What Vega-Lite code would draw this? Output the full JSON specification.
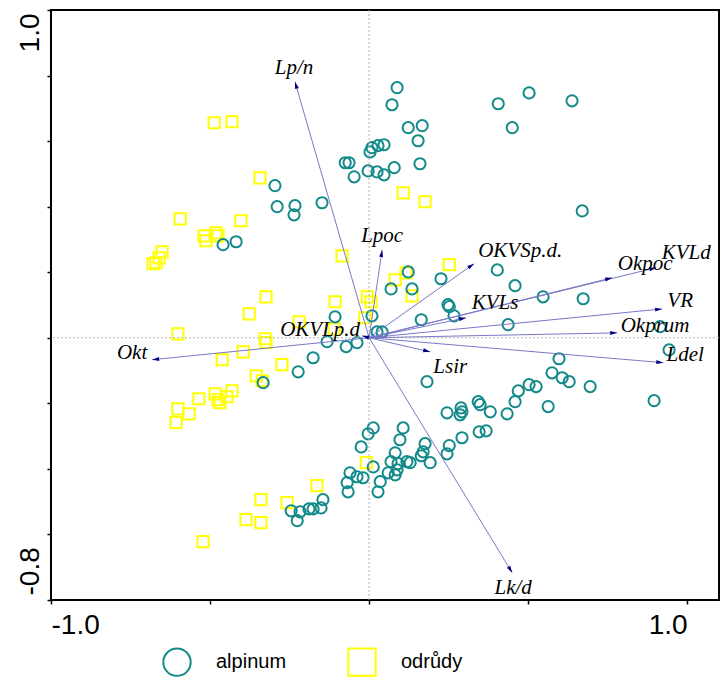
{
  "$schema": "https://vega.github.io/schema/vega-lite/v6.json",
  "width": 668,
  "height": 590,
  "autosize": "none",
  "padding": {"left": 51, "top": 10, "right": 1, "bottom": 80},
  "background": "white",
  "config": {
    "view": {"stroke": "black", "strokeWidth": 2},
    "legend": {
      "orient": "none",
      "legendX": 111,
      "legendY": 637,
      "direction": "horizontal",
      "symbolSize": 750,
      "symbolStrokeWidth": 2,
      "labelFontSize": 20,
      "labelFont": "Liberation Sans",
      "labelColor": "black",
      "labelOffset": 24,
      "columnPadding": 57,
      "padding": 0
    }
  },
  "datasets": {
    "pts": [
      {"g": "odrůdy", "x": -0.487, "y": 0.656}, {"g": "odrůdy", "x": -0.431, "y": 0.659},
      {"g": "odrůdy", "x": -0.343, "y": 0.488}, {"g": "odrůdy", "x": -0.594, "y": 0.363},
      {"g": "odrůdy", "x": -0.403, "y": 0.357}, {"g": "odrůdy", "x": -0.519, "y": 0.311},
      {"g": "odrůdy", "x": -0.513, "y": 0.296}, {"g": "odrůdy", "x": -0.481, "y": 0.320},
      {"g": "odrůdy", "x": -0.475, "y": 0.311}, {"g": "odrůdy", "x": -0.651, "y": 0.262},
      {"g": "odrůdy", "x": -0.660, "y": 0.244}, {"g": "odrůdy", "x": -0.679, "y": 0.226},
      {"g": "odrůdy", "x": -0.670, "y": 0.229}, {"g": "odrůdy", "x": 0.107, "y": 0.442},
      {"g": "odrůdy", "x": 0.176, "y": 0.415}, {"g": "odrůdy", "x": -0.085, "y": 0.250},
      {"g": "odrůdy", "x": 0.252, "y": 0.223}, {"g": "odrůdy", "x": 0.082, "y": 0.177},
      {"g": "odrůdy", "x": 0.116, "y": 0.198}, {"g": "odrůdy", "x": 0.135, "y": 0.128},
      {"g": "odrůdy", "x": -0.107, "y": 0.110}, {"g": "odrůdy", "x": -0.006, "y": 0.125},
      {"g": "odrůdy", "x": 0.006, "y": 0.110}, {"g": "odrůdy", "x": -0.324, "y": 0.125},
      {"g": "odrůdy", "x": -0.377, "y": 0.073}, {"g": "odrůdy", "x": -0.601, "y": 0.012},
      {"g": "odrůdy", "x": -0.327, "y": -0.003}, {"g": "odrůdy", "x": -0.324, "y": -0.015},
      {"g": "odrůdy", "x": -0.396, "y": -0.043}, {"g": "odrůdy", "x": -0.462, "y": -0.067},
      {"g": "odrůdy", "x": -0.274, "y": -0.082}, {"g": "odrůdy", "x": -0.355, "y": -0.116},
      {"g": "odrůdy", "x": -0.336, "y": -0.131}, {"g": "odrůdy", "x": -0.535, "y": -0.186},
      {"g": "odrůdy", "x": -0.484, "y": -0.171}, {"g": "odrůdy", "x": -0.475, "y": -0.189},
      {"g": "odrůdy", "x": -0.469, "y": -0.198}, {"g": "odrůdy", "x": -0.447, "y": -0.180},
      {"g": "odrůdy", "x": -0.431, "y": -0.162}, {"g": "odrůdy", "x": -0.601, "y": -0.217},
      {"g": "odrůdy", "x": -0.566, "y": -0.232}, {"g": "odrůdy", "x": -0.607, "y": -0.259},
      {"g": "odrůdy", "x": -0.340, "y": -0.494}, {"g": "odrůdy", "x": -0.387, "y": -0.555},
      {"g": "odrůdy", "x": -0.340, "y": -0.564}, {"g": "odrůdy", "x": -0.522, "y": -0.622},
      {"g": "odrůdy", "x": -0.220, "y": 0.049}, {"g": "odrůdy", "x": -0.013, "y": 0.061},
      {"g": "odrůdy", "x": -0.110, "y": 0.027}, {"g": "odrůdy", "x": -0.009, "y": -0.381},
      {"g": "odrůdy", "x": -0.164, "y": -0.451}, {"g": "odrůdy", "x": -0.258, "y": -0.503},
      {"g": "alpinum", "x": 0.088, "y": 0.763}, {"g": "alpinum", "x": 0.072, "y": 0.711},
      {"g": "alpinum", "x": 0.123, "y": 0.641}, {"g": "alpinum", "x": 0.167, "y": 0.647},
      {"g": "alpinum", "x": 0.154, "y": 0.601}, {"g": "alpinum", "x": 0.009, "y": 0.580},
      {"g": "alpinum", "x": 0.003, "y": 0.567}, {"g": "alpinum", "x": 0.028, "y": 0.586},
      {"g": "alpinum", "x": 0.047, "y": 0.589}, {"g": "alpinum", "x": -0.075, "y": 0.534},
      {"g": "alpinum", "x": -0.063, "y": 0.534}, {"g": "alpinum", "x": -0.047, "y": 0.491},
      {"g": "alpinum", "x": -0.003, "y": 0.509}, {"g": "alpinum", "x": 0.025, "y": 0.506},
      {"g": "alpinum", "x": 0.047, "y": 0.497}, {"g": "alpinum", "x": 0.079, "y": 0.519},
      {"g": "alpinum", "x": 0.160, "y": 0.531}, {"g": "alpinum", "x": 0.406, "y": 0.714},
      {"g": "alpinum", "x": 0.503, "y": 0.747}, {"g": "alpinum", "x": 0.638, "y": 0.723},
      {"g": "alpinum", "x": 0.450, "y": 0.641}, {"g": "alpinum", "x": 0.670, "y": 0.387},
      {"g": "alpinum", "x": -0.296, "y": 0.464}, {"g": "alpinum", "x": -0.289, "y": 0.400},
      {"g": "alpinum", "x": -0.233, "y": 0.403}, {"g": "alpinum", "x": -0.236, "y": 0.375},
      {"g": "alpinum", "x": -0.148, "y": 0.412}, {"g": "alpinum", "x": -0.459, "y": 0.284},
      {"g": "alpinum", "x": -0.418, "y": 0.293},
      {"g": "alpinum", "x": 0.403, "y": 0.207}, {"g": "alpinum", "x": 0.459, "y": 0.159},
      {"g": "alpinum", "x": 0.547, "y": 0.125}, {"g": "alpinum", "x": 0.673, "y": 0.119},
      {"g": "alpinum", "x": 0.123, "y": 0.201}, {"g": "alpinum", "x": 0.135, "y": 0.149},
      {"g": "alpinum", "x": 0.069, "y": 0.149}, {"g": "alpinum", "x": 0.226, "y": 0.180},
      {"g": "alpinum", "x": 0.248, "y": 0.101}, {"g": "alpinum", "x": -0.107, "y": 0.064},
      {"g": "alpinum", "x": 0.009, "y": 0.067}, {"g": "alpinum", "x": 0.252, "y": 0.095},
      {"g": "alpinum", "x": 0.267, "y": 0.067}, {"g": "alpinum", "x": 0.164, "y": 0.055},
      {"g": "alpinum", "x": -0.132, "y": -0.012}, {"g": "alpinum", "x": -0.072, "y": -0.027},
      {"g": "alpinum", "x": -0.038, "y": -0.015}, {"g": "alpinum", "x": 0.025, "y": 0.018},
      {"g": "alpinum", "x": 0.041, "y": 0.018}, {"g": "alpinum", "x": -0.176, "y": -0.061},
      {"g": "alpinum", "x": -0.223, "y": -0.104}, {"g": "alpinum", "x": -0.333, "y": -0.137},
      {"g": "alpinum", "x": 0.182, "y": -0.134}, {"g": "alpinum", "x": 0.437, "y": 0.040},
      {"g": "alpinum", "x": 0.915, "y": 0.034}, {"g": "alpinum", "x": 0.943, "y": -0.037},
      {"g": "alpinum", "x": 0.896, "y": -0.192},
      {"g": "alpinum", "x": 0.597, "y": -0.064}, {"g": "alpinum", "x": 0.575, "y": -0.107},
      {"g": "alpinum", "x": 0.607, "y": -0.122}, {"g": "alpinum", "x": 0.629, "y": -0.134},
      {"g": "alpinum", "x": 0.695, "y": -0.149}, {"g": "alpinum", "x": 0.503, "y": -0.143},
      {"g": "alpinum", "x": 0.525, "y": -0.149}, {"g": "alpinum", "x": 0.469, "y": -0.162},
      {"g": "alpinum", "x": 0.459, "y": -0.195}, {"g": "alpinum", "x": 0.563, "y": -0.210},
      {"g": "alpinum", "x": 0.434, "y": -0.232}, {"g": "alpinum", "x": 0.381, "y": -0.226},
      {"g": "alpinum", "x": 0.245, "y": -0.229}, {"g": "alpinum", "x": 0.289, "y": -0.214},
      {"g": "alpinum", "x": 0.292, "y": -0.226}, {"g": "alpinum", "x": 0.286, "y": -0.235},
      {"g": "alpinum", "x": 0.343, "y": -0.195}, {"g": "alpinum", "x": 0.349, "y": -0.204},
      {"g": "alpinum", "x": 0.292, "y": -0.305}, {"g": "alpinum", "x": 0.252, "y": -0.329},
      {"g": "alpinum", "x": 0.245, "y": -0.354}, {"g": "alpinum", "x": 0.346, "y": -0.287},
      {"g": "alpinum", "x": 0.368, "y": -0.284},
      {"g": "alpinum", "x": 0.013, "y": -0.275}, {"g": "alpinum", "x": -0.003, "y": -0.293},
      {"g": "alpinum", "x": -0.025, "y": -0.333}, {"g": "alpinum", "x": 0.107, "y": -0.275},
      {"g": "alpinum", "x": 0.097, "y": -0.311}, {"g": "alpinum", "x": 0.082, "y": -0.351},
      {"g": "alpinum", "x": 0.176, "y": -0.323}, {"g": "alpinum", "x": 0.170, "y": -0.348},
      {"g": "alpinum", "x": 0.164, "y": -0.360}, {"g": "alpinum", "x": 0.069, "y": -0.378},
      {"g": "alpinum", "x": 0.091, "y": -0.384}, {"g": "alpinum", "x": 0.119, "y": -0.378},
      {"g": "alpinum", "x": 0.129, "y": -0.381}, {"g": "alpinum", "x": 0.192, "y": -0.381},
      {"g": "alpinum", "x": 0.088, "y": -0.403}, {"g": "alpinum", "x": 0.060, "y": -0.412},
      {"g": "alpinum", "x": 0.082, "y": -0.418}, {"g": "alpinum", "x": 0.013, "y": -0.394},
      {"g": "alpinum", "x": -0.060, "y": -0.412}, {"g": "alpinum", "x": -0.038, "y": -0.424},
      {"g": "alpinum", "x": -0.019, "y": -0.427}, {"g": "alpinum", "x": -0.069, "y": -0.442},
      {"g": "alpinum", "x": 0.035, "y": -0.439}, {"g": "alpinum", "x": -0.066, "y": -0.470},
      {"g": "alpinum", "x": 0.028, "y": -0.470}, {"g": "alpinum", "x": -0.145, "y": -0.494},
      {"g": "alpinum", "x": -0.151, "y": -0.519}, {"g": "alpinum", "x": -0.176, "y": -0.522},
      {"g": "alpinum", "x": -0.189, "y": -0.522}, {"g": "alpinum", "x": -0.217, "y": -0.531},
      {"g": "alpinum", "x": -0.245, "y": -0.528}, {"g": "alpinum", "x": -0.226, "y": -0.558}
    ],
    "arrows": [
      {"v": "Lp/n", "x": -0.233, "y": 0.781, "lx": -0.236, "ly": 0.824},
      {"v": "Lpoc", "x": 0.041, "y": 0.268, "lx": 0.041, "ly": 0.311},
      {"v": "OKVSp.d.", "x": 0.330, "y": 0.226, "lx": 0.475, "ly": 0.265},
      {"v": "Okpoc", "x": 0.764, "y": 0.183, "lx": 0.868, "ly": 0.226},
      {"v": "KVLd", "x": 0.903, "y": 0.214, "lx": 0.997, "ly": 0.259},
      {"v": "KVLs", "x": 0.305, "y": 0.061, "lx": 0.396, "ly": 0.107},
      {"v": "VR", "x": 0.921, "y": 0.088, "lx": 0.978, "ly": 0.113},
      {"v": "Okprum", "x": 0.780, "y": 0.015, "lx": 0.899, "ly": 0.037},
      {"v": "Ldel", "x": 0.925, "y": -0.076, "lx": 0.994, "ly": -0.052},
      {"v": "Lsir", "x": 0.192, "y": -0.043, "lx": 0.255, "ly": -0.088},
      {"v": "Lk/d", "x": 0.450, "y": -0.717, "lx": 0.453, "ly": -0.763},
      {"v": "OKVLp.d", "x": -0.022, "y": 0.006, "lx": -0.154, "ly": 0.024},
      {"v": "Okt", "x": -0.682, "y": -0.067, "lx": -0.745, "ly": -0.046}
    ]
  },
  "layer": [
    {
      "data": {"name": "pts"},
      "mark": {"type": "point", "filled": false, "size": 125, "strokeWidth": 2, "opacity": 1},
      "encoding": {
        "x": {
          "field": "x", "type": "quantitative", "title": null,
          "scale": {"domain": [-1, 1.1], "nice": false, "zero": false},
          "axis": {
            "values": [-1, -0.5, 0, 0.5, 1],
            "labelExpr": "datum.value == -1 ? '-1.0' : (datum.value == 1 ? '1.0' : '')",
            "labelAlign": {"condition": {"test": "datum.value < 0", "value": "left"}, "value": "right"},
            "labelFont": "Liberation Sans", "labelFontSize": 28, "labelColor": "black",
            "labelPadding": 7, "labelFlush": false, "labelOverlap": false, "labelBaseline": "top",
            "tickColor": "black", "tickSize": 4, "tickWidth": 1.5,
            "domain": false, "grid": false, "title": null
          }
        },
        "y": {
          "field": "y", "type": "quantitative", "title": null,
          "scale": {"domain": [-0.8, 1.0], "nice": false, "zero": false},
          "axis": {
            "values": [-0.8, -0.6, -0.4, -0.2, 0, 0.2, 0.4, 0.6, 0.8, 1.0],
            "labelExpr": "datum.value == 1 ? '1.0' : (datum.value == -0.8 ? '-0.8' : '')",
            "labelAngle": -90,
            "labelAlign": {"condition": {"test": "datum.value > 0", "value": "right"}, "value": "left"},
            "labelOffset": {"condition": {"test": "datum.value > 0", "value": 3}, "value": -5},
            "labelBaseline": "alphabetic",
            "labelFont": "Liberation Sans", "labelFontSize": 28, "labelColor": "black",
            "labelPadding": 9, "labelFlush": false, "labelOverlap": false,
            "tickColor": "black", "tickSize": 4, "tickWidth": 1.5,
            "domain": false, "grid": false, "title": null
          }
        },
        "color": {
          "field": "g", "type": "nominal",
          "scale": {"domain": ["alpinum", "odrůdy"], "range": ["#138a8a", "#ffff00"]},
          "legend": {"title": null}
        },
        "shape": {
          "field": "g", "type": "nominal",
          "scale": {"domain": ["alpinum", "odrůdy"], "range": ["circle", "square"]},
          "legend": {"title": null}
        }
      }
    },
    {
      "data": {"values": [{}]},
      "mark": {"type": "rule", "color": "#b0b0b0", "strokeDash": [2, 2], "strokeWidth": 1},
      "encoding": {"x": {"datum": 0, "type": "quantitative"}}
    },
    {
      "data": {"values": [{}]},
      "mark": {"type": "rule", "color": "#b0b0b0", "strokeDash": [2, 2], "strokeWidth": 1},
      "encoding": {"y": {"datum": 0, "type": "quantitative"}}
    },
    {
      "data": {"name": "arrows"},
      "mark": {"type": "rule", "color": "#7878c8", "strokeWidth": 1},
      "encoding": {
        "x": {"field": "x", "type": "quantitative"},
        "y": {"field": "y", "type": "quantitative"},
        "x2": {"datum": 0},
        "y2": {"datum": 0}
      }
    },
    {
      "data": {"name": "arrows"},
      "transform": [{"calculate": "atan2(datum.x * 318, datum.y * 327.8) * 180 / PI", "as": "ang"}],
      "mark": {"type": "point", "shape": "M0,0L-0.4,1.4L0.4,1.4Z", "filled": true, "size": 100, "color": "#000080", "opacity": 1, "strokeWidth": 0},
      "encoding": {
        "x": {"field": "x", "type": "quantitative"},
        "y": {"field": "y", "type": "quantitative"},
        "angle": {"field": "ang", "type": "quantitative", "scale": null}
      }
    },
    {
      "data": {"name": "arrows"},
      "mark": {"type": "text", "font": "Liberation Serif", "fontStyle": "italic", "fontSize": 21, "color": "black", "align": "center", "baseline": "middle"},
      "encoding": {
        "x": {"field": "lx", "type": "quantitative"},
        "y": {"field": "ly", "type": "quantitative"},
        "text": {"field": "v"}
      }
    }
  ]
}
